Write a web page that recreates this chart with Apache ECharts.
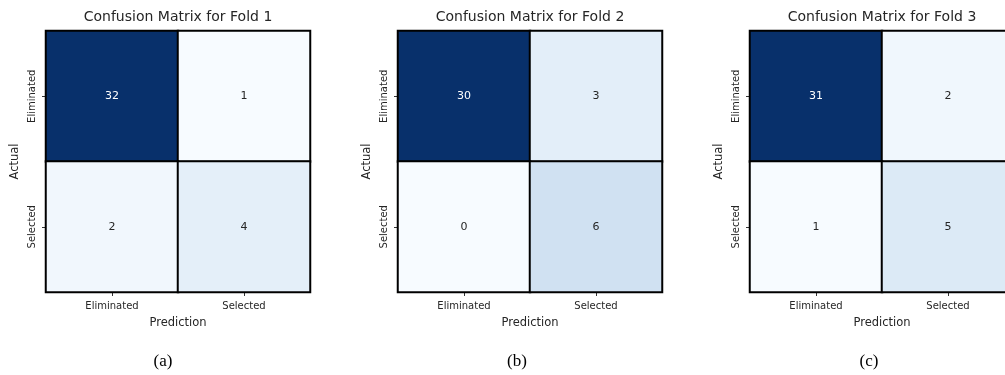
<!DOCTYPE html>
<html>
<head>
<meta charset="utf-8">
<script src="https://cdn.jsdelivr.net/npm/echarts@6/dist/echarts.min.js"></script>
<style>html,body{margin:0;padding:0;background:#fff;overflow:hidden;width:1005px;height:375px}#c{width:1016px;height:375px}</style>
</head>
<body>
<div id="c"></div>
<script>
const classes = ['Eliminated', 'Selected'];
const foldTitles = ['Confusion Matrix for Fold 1', 'Confusion Matrix for Fold 2', 'Confusion Matrix for Fold 3'];
const captions = ['(a)', '(b)', '(c)'];
// rows = Actual, cols = Prediction
const fold1 = [[32, 1], [2, 4]];
const fold2 = [[30, 3], [0, 6]];
const fold3 = [[31, 2], [1, 5]];
const folds = [fold1, fold2, fold3];

const blues = ['#f7fbff', '#deebf7', '#c6dbef', '#9ecae1', '#6baed6', '#4292c6', '#2171b5', '#08519c', '#08306b'];
const gridLefts = [46, 398, 750];
const gridW = 264, gridTop = 31, gridH = 261;
const captionX = [163, 517, 869];
const FONT = 'DejaVu Sans';

const grids = [], xAxes = [], yAxes = [], series = [], visualMaps = [], titles = [], graphics = [];
folds.forEach((m, i) => {
  grids.push({ left: gridLefts[i], top: gridTop, width: gridW, height: gridH, containLabel: false });
  xAxes.push({
    type: 'category', gridIndex: i, data: classes, position: 'bottom',
    name: 'Prediction', nameLocation: 'middle', nameGap: 25,
    nameTextStyle: { fontFamily: FONT, fontSize: 11.5, color: '#262626' },
    axisLine: { show: true, lineStyle: { color: '#888', width: 1 } },
    axisTick: { show: true, alignWithLabel: true, length: 4, lineStyle: { color: '#333' } },
    axisLabel: { fontFamily: FONT, fontSize: 10, color: '#262626', margin: 9 },
    splitLine: { show: false }
  });
  yAxes.push({
    type: 'category', gridIndex: i, data: classes, inverse: true,
    name: 'Actual', nameLocation: 'middle', nameGap: 25,
    nameTextStyle: { fontFamily: FONT, fontSize: 11.5, color: '#262626' },
    axisLine: { show: true, lineStyle: { color: '#888', width: 1 } },
    axisTick: { show: true, alignWithLabel: true, length: 4, lineStyle: { color: '#333' } },
    axisLabel: { fontFamily: FONT, fontSize: 10, color: '#262626', rotate: 90, margin: 9 },
    splitLine: { show: false }
  });
  const flat = m.flat();
  const vmin = Math.min(...flat), vmax = Math.max(...flat);
  const data = [];
  m.forEach((row, r) => row.forEach((v, c) => {
    const t = (v - vmin) / (vmax - vmin);
    data.push({ value: [c, r, v], label: { color: t > 0.6 ? '#ffffff' : '#262626' } });
  }));
  series.push({
    type: 'heatmap', xAxisIndex: i, yAxisIndex: i, data: data,
    label: { show: true, fontFamily: FONT, fontSize: 11, formatter: p => p.value[2] },
    itemStyle: { borderColor: '#000', borderWidth: 2 },
    emphasis: { disabled: true }
  });
  visualMaps.push({ show: false, seriesIndex: i, min: vmin, max: vmax, dimension: 2, inRange: { color: blues } });
  titles.push({
    text: foldTitles[i], left: gridLefts[i] + gridW / 2, top: 10, textAlign: 'center', padding: 0,
    textStyle: { fontFamily: FONT, fontSize: 14, fontWeight: 'normal', color: '#262626' }
  });
  graphics.push({
    type: 'text', x: captionX[i], y: 362,
    style: { text: captions[i], font: '17px "Liberation Serif"', fill: '#000', textAlign: 'center', textVerticalAlign: 'middle' }
  });
});

const chart = echarts.init(document.getElementById('c'), null, { renderer: 'canvas' });
chart.setOption({
  animation: false,
  backgroundColor: '#ffffff',
  title: titles,
  grid: grids,
  xAxis: xAxes,
  yAxis: yAxes,
  visualMap: visualMaps,
  series: series,
  graphic: graphics
});
</script>
</body>
</html>
